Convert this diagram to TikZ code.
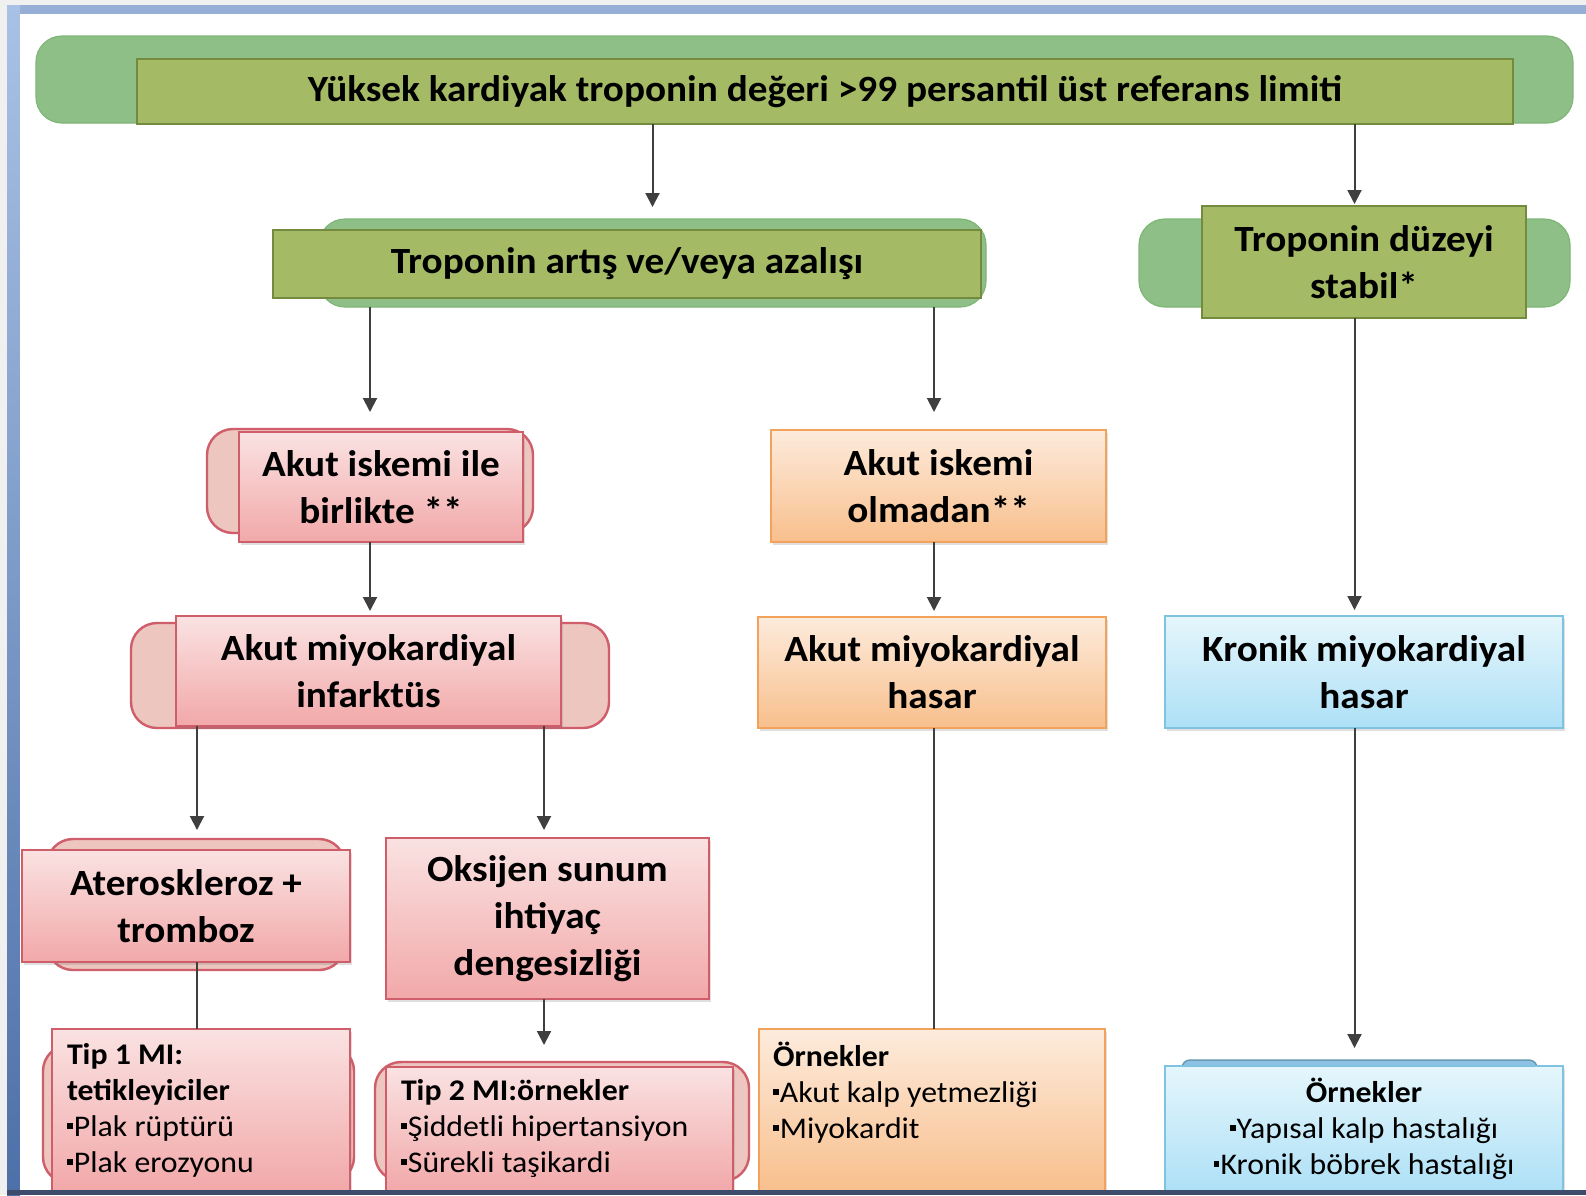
\documentclass[tikz,border=0pt]{standalone}
\usepackage{fontspec}
\setmainfont{Carlito}[FakeStretch=1.06]
\usetikzlibrary{arrows.meta,shadows}

\definecolor{pagegrey}{HTML}{F0F0F0}
\definecolor{framelt}{HTML}{A9C1E5}
\definecolor{framedk}{HTML}{4D70A8}
\definecolor{frametop}{HTML}{97AFD6}
\definecolor{framebot}{HTML}{3D4C6D}
\definecolor{grnfill}{HTML}{8DBF86}
\definecolor{grnedge}{HTML}{7FB677}
\definecolor{olvfill}{HTML}{A4BA64}
\definecolor{olvedge}{HTML}{748A3E}
\definecolor{pnkback}{HTML}{EDC6BF}
\definecolor{pnkedge}{HTML}{CF5D6A}
\definecolor{pnktop}{HTML}{FAE2E2}
\definecolor{pnkbot}{HTML}{F2A8A9}
\definecolor{orgtop}{HTML}{FDEBDC}
\definecolor{orgbot}{HTML}{F8BF8C}
\definecolor{orgedge}{HTML}{F3A25B}
\definecolor{blutop}{HTML}{E5F6FC}
\definecolor{blubot}{HTML}{ADE0F6}
\definecolor{bluedge}{HTML}{80C3E0}
\definecolor{bluback}{HTML}{8DC2E4}
\definecolor{arrgrey}{HTML}{3F3F3F}

% small square bullet used in the example lists
\newcommand{\sqb}{\rule[0.25em]{0.19em}{0.2em}\hspace{0.04em}}

\begin{document}
\begin{tikzpicture}[x=1pt,y=-1pt,
  every node/.style={inner sep=0pt, outer sep=0pt},
  wh/.style 2 args={minimum width=#1pt, minimum height=#2pt},
  title/.style={font=\fontsize{37}{47}\selectfont\bfseries, align=center, text=black},
  greenbg/.style={draw=grnedge, fill=grnfill, line width=1.2pt, rounded corners=26pt},
  olive/.style={title, draw=olvedge, fill=olvfill, line width=2.8pt},
  pinkbg/.style={draw=pnkedge, fill=pnkback, line width=2.4pt, rounded corners=26pt},
  boxshadow/.style={drop shadow={shadow xshift=2pt, shadow yshift=-3pt, opacity=0.25}},
  pinkbox/.style={title, draw=pnkedge, line width=2.4pt, top color=pnktop, bottom color=pnkbot, boxshadow},
  orangebox/.style={title, draw=orgedge, line width=2.4pt, top color=orgtop, bottom color=orgbot, boxshadow},
  bluebox/.style={title, draw=bluedge, line width=2.4pt, top color=blutop, bottom color=blubot, boxshadow},
  listtext/.style={font=\fontsize{30}{36}\selectfont, align=left, anchor=base west},
  arr/.style={draw=arrgrey, line width=2pt, -{Triangle[width=14pt,length=14pt]}},
  link/.style={draw=arrgrey, line width=2pt}]

\useasboundingbox (0,0) rectangle (1586,1195);

% slide frame
\node[fill=pagegrey, anchor=north west, wh={1586}{1195}] (page) at (0,0) {};
\node[fill=frametop, anchor=north west, wh={1579}{9}] (ftop) at (7,5) {};
\node[top color=framelt, bottom color=framedk, anchor=north west, wh={13}{1190}] (fleft) at (7,5) {};
\node[fill=white, anchor=north west, wh={1566}{1177}] (slide) at (20,14) {};

% column guides for the connectors
\coordinate (cola) at (197,0);
\coordinate (colb) at (544,0);
\coordinate (colc) at (934,0);

% level 1
\node[greenbg, wh={1537}{87}] (topbg) at (804.5,79.5) {};
\node[olive, wh={1376}{65}] (top) at (825,91.5) {Yüksek kardiyak troponin değeri >99 persantil üst referans limiti};

% level 2
\node[greenbg, wh={667}{88}] (trendbg) at (652.5,263) {};
\node[olive, wh={708}{68}] (trend) at (627,264) {Troponin artış ve/veya azalışı};
\node[greenbg, wh={431}{88}] (stablebg) at (1354.5,263) {};
\node[olive, wh={324}{112}] (stable) at (1364,262) {Troponin düzeyi\\stabil*};

% level 3
\node[pinkbg, wh={326}{104}] (aiibg) at (370,481) {};
\node[pinkbox, wh={284}{110}] (aii) at (381,487) {Akut iskemi ile\\birlikte **};
\node[orangebox, wh={335}{112}] (aio) at (938.5,486) {Akut iskemi\\olmadan**};

% level 4
\node[pinkbg, wh={478}{105}] (amibg) at (370,675.5) {};
\node[pinkbox, wh={385}{110}] (ami) at (368.5,671) {Akut miyokardiyal\\infarktüs};
\node[orangebox, wh={348}{111}] (amh) at (932,672.5) {Akut miyokardiyal\\hasar};
\node[bluebox, wh={398}{112}] (kron) at (1364,672) {Kronik miyokardiyal\\hasar};

% level 5
\node[pinkbg, wh={298}{131}] (athbg) at (196,904.5) {};
\node[pinkbox, wh={328}{112}] (ath) at (186,906) {Ateroskleroz +\\tromboz};
\node[pinkbox, wh={323}{161}] (oks) at (547.5,918.5) {Oksijen sunum\\ihtiyaç\\dengesizliği};

% level 6 (the list node base is the baseline of its last line)
\node[pinkbg, wh={311}{138}] (tip1bg) at (198.5,1114) {};
\node[pinkbox, wh={298}{163}] (tip1) at (201,1110.5) {};
\node[listtext] (tip1txt) at (67,1172) {\textbf{Tip 1 MI:}\\\textbf{tetikleyiciler}\\\sqb Plak rüptürü\\\sqb Plak erozyonu};

\node[pinkbg, wh={374}{119}] (tip2bg) at (562,1121.5) {};
\node[pinkbox, wh={347}{125}] (tip2) at (559.5,1129.5) {};
\node[listtext] (tip2txt) at (401,1172) {\textbf{Tip 2 MI:örnekler}\\\sqb Şiddetli hipertansiyon\\\sqb Sürekli taşikardi};

\node[orangebox, wh={346}{163}] (orn1) at (932,1110.5) {};
\node[listtext] (orn1txt) at (773,1138) {\textbf{Örnekler}\\\sqb Akut kalp yetmezliği\\\sqb Miyokardit};

\node[draw=bluedge!80!black, fill=bluback, line width=1.5pt, rounded corners=8pt, wh={355}{20}] (orn2bg) at (1359.5,1070) {};
\node[bluebox, wh={398}{126}] (orn2) at (1364,1129) {};
\node[listtext, align=center, anchor=base] (orn2txt) at (1364,1174) {\textbf{Örnekler}\\\sqb Yapısal kalp hastalığı\\\sqb Kronik böbrek hastalığı};

% connectors
\draw[arr, shorten >=12pt] (top.south -| trendbg.north) -- (trendbg.north);
\draw[arr, shorten >=2pt] (top.south -| stablebg.north) -- (stable.north -| stablebg.north);
\draw[arr, shorten >=17pt] (trendbg.south -| aiibg.north) -- (aiibg.north);
\draw[arr, shorten >=18pt] (trendbg.south -| colc) -- (aio.north -| colc);
\draw[arr, shorten >=6pt] (stable.south -| stablebg.north) -- (kron.north -| stablebg.north);
\draw[arr, shorten >=5pt] (aii.south -| amibg.north) -- (ami.north -| amibg.north);
\draw[arr, shorten >=6pt] (aio.south -| colc) -- (amh.north -| colc);
\draw[arr, shorten >=9pt] (ami.south -| cola) -- (athbg.north -| cola);
\draw[arr, shorten >=8pt] (ami.south -| colb) -- (oks.north -| colb);
\draw[link] (ath.south -| cola) -- (tip1.north -| cola);
\draw[arr, shorten >=17pt] (oks.south -| colb) -- (tip2bg.north -| colb);
\draw[link] (amh.south -| colc) -- (orn1.north -| colc);
\draw[arr, shorten >=18pt] (kron.south -| stablebg.north) -- (orn2.north -| stablebg.north);

% lower frame edge
\node[fill=framebot, anchor=north west, wh={1579}{5}] (fbot) at (7,1190) {};
\end{tikzpicture}
\end{document}
